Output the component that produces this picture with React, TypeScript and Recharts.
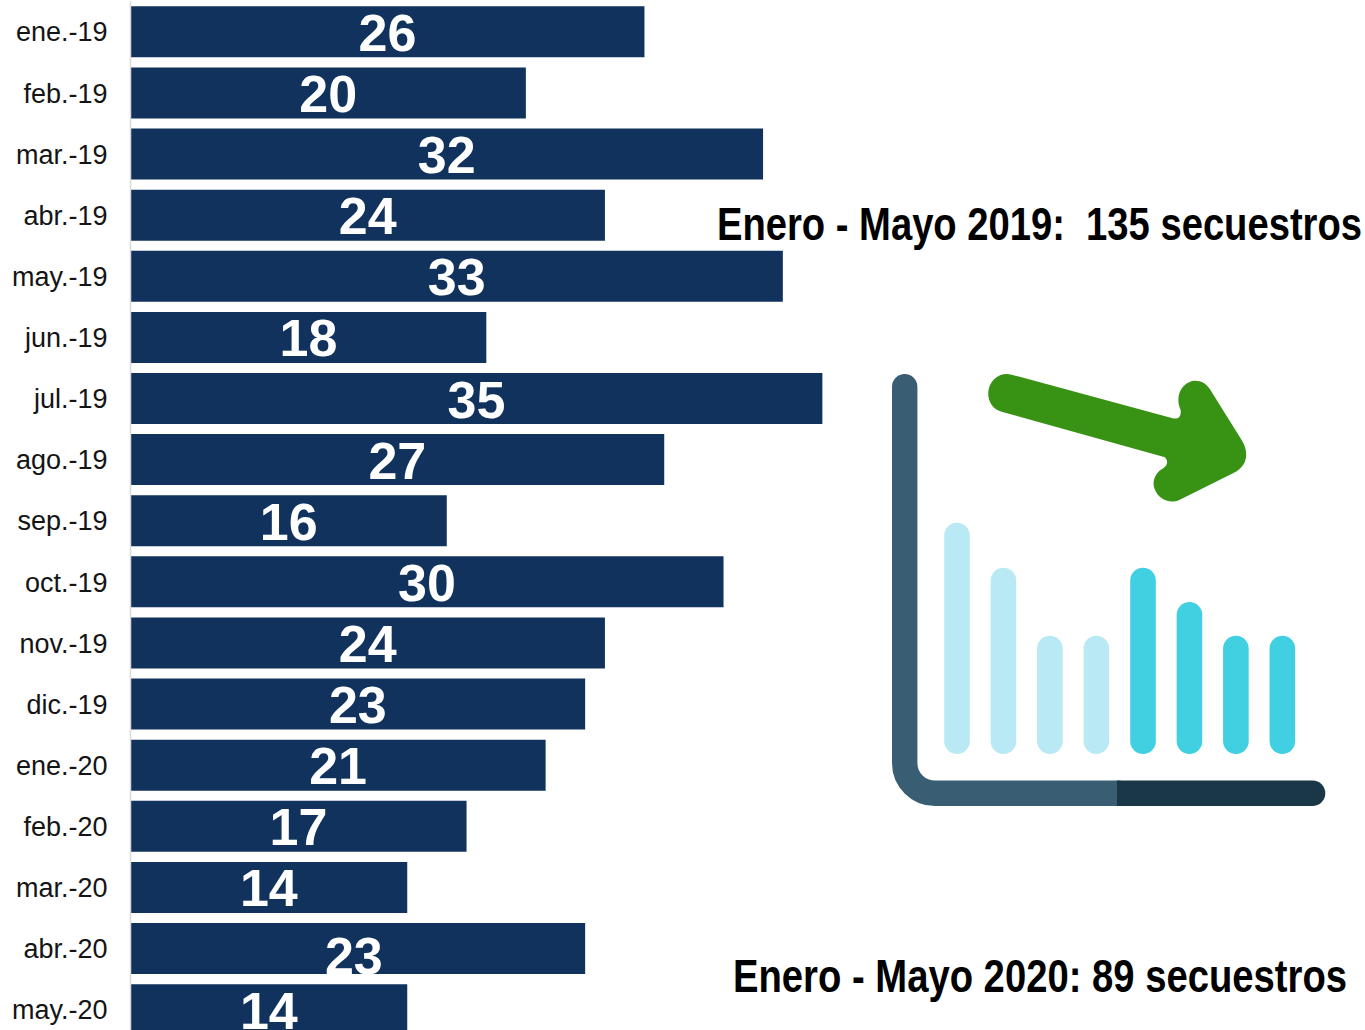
import React from 'react';
import { BarChart, Bar, XAxis, YAxis, LabelList } from 'recharts';

const months = ['ene.-19','feb.-19','mar.-19','abr.-19','may.-19','jun.-19','jul.-19','ago.-19','sep.-19','oct.-19','nov.-19','dic.-19','ene.-20','feb.-20','mar.-20','abr.-20','may.-20'];
const kidnappings = [26,20,32,24,33,18,35,27,16,30,24,23,21,17,14,23,14];
const note2019 = 'Enero - Mayo 2019:  135 secuestros';
const note2020 = 'Enero - Mayo 2020: 89 secuestros';
const iconLight = [522.7,567.7,635.7,635.7];
const iconDark = [567.7,602,635.7,635.7];

const rows = months.map((month, i) => ({ month, value: kidnappings[i] }));
const font = '"Liberation Sans", Arial, sans-serif';

const ValueLabel = (p: any) => {
  const shifted = p.index === 15;
  return (
    <text x={p.x + p.width / 2 + (shifted ? -4 : 0)} y={p.y + p.height / 2 + (shifted ? 25 : 19)} textAnchor="middle"
      fontFamily={font} fontWeight={700} fontSize={52} fill="#ffffff">{p.value}</text>
  );
};

const Overlay = () => (
  <svg width={1365} height={1030} style={{ position: 'absolute', left: 0, top: 0 }}>
    <text x={717} y={240} textLength={645} lengthAdjust="spacingAndGlyphs" fontFamily={font} fontWeight={700} fontSize={46} fill="#000" style={{ whiteSpace: 'pre' }}>{note2019}</text>
    <text x={733} y={992} textLength={614} lengthAdjust="spacingAndGlyphs" fontFamily={font} fontWeight={700} fontSize={46} fill="#000">{note2020}</text>
    <path d="M904.7 386.7 V763 a30.3 30.3 0 0 0 30.3 30.3 H1118" fill="none" stroke="#395d72" strokeWidth={25.4} strokeLinecap="round" />
    <path d="M1117 780.6 H1312.6 a12.7 12.7 0 0 1 0 25.4 H1117 Z" fill="#1a3748" />
    {iconLight.map((top, i) => (
      <rect key={i} x={944.2 + i * 46.45} y={top} width={25.6} height={754 - top} rx={12.8} fill="#b9e9f5" />
    ))}
    {iconDark.map((top, i) => (
      <rect key={i} x={1130.2 + i * 46.45} y={top} width={25.6} height={754 - top} rx={12.8} fill="#41cfe2" />
    ))}
    <g transform="translate(880 360) scale(0.3333)">
      <path fill="#389315" d="M395 44 L878 175 Q905 180 902 150 C880 100 915 62 945 62 C965 62 980 72 990 88 L1085 240 C1110 280 1100 320 1062 338 L898 420 C870 432 835 420 823 385 C815 360 830 335 850 325 Q870 310 855 292 L365 155 C335 147 323 120 325 95 C328 60 360 35 395 44 Z" />
    </g>
  </svg>
);

export default function App() {
  return (
    <div style={{ position: 'absolute', left: 0, top: 0, width: 1365, height: 1030, overflow: 'hidden', background: '#fff' }}>
      <BarChart width={1365} height={1041} data={rows} layout="vertical" barSize={51}
        margin={{ top: 1.3, right: 0, bottom: 0.7, left: 0 }}>
        <XAxis type="number" hide domain={[0, 62.45]} />
        <YAxis type="category" dataKey="month" width={130.5} interval={0} tickLine={false} tickMargin={17}
          axisLine={{ stroke: '#d9d9d9', strokeWidth: 1.5 }}
          tick={{ fontFamily: font, fontSize: 27, fill: '#141414' }} />
        <Bar dataKey="value" fill="#10325c" isAnimationActive={false}>
          <LabelList dataKey="value" content={ValueLabel} />
        </Bar>
      </BarChart>
      <Overlay />
    </div>
  );
}
